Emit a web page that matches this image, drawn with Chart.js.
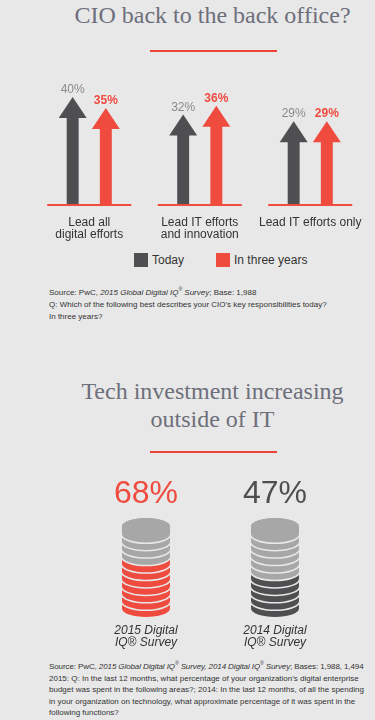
<!DOCTYPE html>
<html>
<head>
<meta charset="utf-8">
<script src="https://cdn.jsdelivr.net/npm/chart.js@4.4.1/dist/chart.umd.min.js"></script>
<style>
  body { margin: 0; background: #e8e8e8; }
  #page { position: relative; width: 375px; height: 720px; overflow: hidden; font-family: "Liberation Sans", Arial, sans-serif; }
  .title { position: absolute; left: 50px; width: 325px; text-align: center; font-family: "Liberation Serif", serif; font-size: 24px; line-height: 28px; color: #6d6f7b; }
  .rule { position: absolute; left: 150px; width: 127px; height: 2px; background: #ec4336; }
  .note { position: absolute; left: 49px; font-size: 8px; line-height: 12px; color: #333; white-space: nowrap; }
  .note sup { font-size: 5px; line-height: 0; }
  #legend { position: absolute; top: 253px; left: 134px; font-size: 12px; color: #333; white-space: nowrap; }
  #legend span { display: inline-block; vertical-align: top; line-height: 14px; }
  #legend .box { width: 14px; height: 14px; margin-right: 4px; }
  canvas { position: absolute; left: 0; }
</style>
</head>
<body>
<div id="page">
  <div class="title" style="top:1px">CIO back to the back office?</div>
  <div class="rule" style="top:50px"></div>
  <canvas id="cio" width="375" height="185" style="top:60px"></canvas>
  <div id="legend"></div>
  <div class="note" style="top:287px">Source: PwC, <i>2015 Global Digital IQ<sup>®</sup> Survey</i>; Base: 1,988<br>Q: Which of the following best describes your CIO's key responsibilities today?<br>In three years?</div>

  <div class="title" style="top:377px">Tech investment increasing<br>outside of IT</div>
  <div class="rule" style="top:451px"></div>
  <canvas id="tech" width="375" height="185" style="top:470px"></canvas>
  <div class="note" style="top:661px; line-height:11.5px"><span style="letter-spacing:-0.1px">Source: PwC, <i>2015 Global Digital IQ<sup>®</sup> Survey, 2014 Digital IQ<sup>®</sup> Survey</i>; Bases: 1,988, 1,494</span><br>2015: Q: In the last 12 months, what percentage of your organization's digital enterprise<br>budget was spent in the following areas?; 2014: In the last 12 months, of all the spending<br>in your organization on technology, what approximate percentage of it was spent in the<br>following functions?</div>
</div>
<script>
// CIO responsibilities (%)
const categories = [['Lead all', 'digital efforts'], ['Lead IT efforts', 'and innovation'], 'Lead IT efforts only'];
const seriesNames = ['Today', 'In three years'];
const today = [40, 32, 29];
const inThreeYears = [35, 36, 29];

// share of tech spend outside IT (%)
const surveys = [['2015 Digital', 'IQ® Survey'], ['2014 Digital', 'IQ® Survey']];
const techShare = [68, 47];

const DARK = '#4f4f51';
const RED = '#ef4b3f';
const LIGHT = '#a7a7a7';
const BG = '#e8e8e8';
const FONT = '"Liberation Sans", Arial, sans-serif';
const DISCS = 11;

// legend for the first chart
const legendColors = [DARK, RED];
document.getElementById('legend').innerHTML = seriesNames.map((name, i) =>
  '<span class="box" style="background:' + legendColors[i] + '"></span><span style="margin-right:' + (i === 0 ? 32 : 0) + 'px">' + name + '</span>'
).join('');

// arrow heads on top of each bar, plus the red base line of each group
const arrowHeads = {
  id: 'arrowHeads',
  afterDatasetsDraw(chart) {
    const ctx = chart.ctx;
    const base = chart.scales.y.getPixelForValue(0);
    const xs = chart.scales.x;
    ctx.save();
    ctx.fillStyle = RED;
    categories.forEach((c, i) => {
      ctx.fillRect(xs.getPixelForValue(i) - 42, base - 1, 84, 2);
    });
    chart.data.datasets.forEach((ds, di) => {
      chart.getDatasetMeta(di).data.forEach((bar, i) => {
        ctx.fillStyle = ds.backgroundColor;
        ctx.beginPath();
        ctx.moveTo(bar.x - 14, bar.y + 1);
        ctx.lineTo(bar.x + 14, bar.y + 1);
        ctx.lineTo(bar.x, bar.y - 20);
        ctx.closePath();
        ctx.fill();
        ctx.fillStyle = di === 0 ? '#8a8a8a' : RED;
        ctx.font = (di === 0 ? '' : 'bold ') + '12px ' + FONT;
        ctx.textAlign = 'center';
        ctx.fillText(ds.data[i] + '%', bar.x, bar.y - 24);
      });
    });
    ctx.restore();
  }
};

function discPath(ctx, cx, yt, yb, rx, ry) {
  ctx.beginPath();
  ctx.moveTo(cx - rx, yt);
  ctx.lineTo(cx - rx, yb);
  ctx.ellipse(cx, yb, rx, ry, 0, Math.PI, 0, true);
  ctx.lineTo(cx + rx, yt);
  ctx.ellipse(cx, yt, rx, ry, 0, 0, Math.PI, true);
  ctx.closePath();
}

// each bar is drawn as a stack of discs, the filled share in colour
const cylinders = {
  id: 'cylinders',
  beforeDatasetsDraw(chart) {
    const ctx = chart.ctx;
    const top = chart.scales.y.getPixelForValue(100);
    const bottom = chart.scales.y.getPixelForValue(0);
    const step = (bottom - top) / DISCS;
    const ds = chart.data.datasets[0];
    ctx.save();
    chart.getDatasetMeta(0).data.forEach((bar, i) => {
      const rx = bar.width / 2, ry = 8.5;
      const filled = Math.round(ds.data[i] / 100 * DISCS);
      for (let k = 0; k < DISCS; k++) {
        const yb = bottom - k * step;
        discPath(ctx, bar.x, yb - step, yb, rx, ry);
        ctx.strokeStyle = BG;
        ctx.lineWidth = 3;
        ctx.stroke();
        ctx.fillStyle = k < filled ? ds.backgroundColor[i] : LIGHT;
        ctx.fill();
      }
      ctx.beginPath();
      ctx.ellipse(bar.x, top, rx, ry, 0, 0, 2 * Math.PI);
      ctx.fillStyle = LIGHT;
      ctx.fill();
      ctx.fillStyle = ds.backgroundColor[i];
      ctx.font = '32px ' + FONT;
      ctx.textAlign = 'center';
      ctx.fillText(ds.data[i] + '%', bar.x, top - ry - 15);
    });
    ctx.restore();
    return false;
  }
};

new Chart(document.getElementById('cio'), {
  type: 'bar',
  data: {
    labels: categories,
    datasets: [
      { label: seriesNames[0], data: today, backgroundColor: DARK, categoryPercentage: 0.6, barPercentage: 0.36 },
      { label: seriesNames[1], data: inThreeYears, backgroundColor: RED, categoryPercentage: 0.6, barPercentage: 0.36 }
    ]
  },
  options: {
    responsive: false,
    animation: false,
    layout: { padding: { top: 35, left: 34, right: 9, bottom: 0 } },
    plugins: { legend: { display: false }, tooltip: { enabled: false } },
    scales: {
      x: {
        grid: { display: false, drawTicks: false },
        border: { display: false },
        ticks: { color: '#333', padding: 12, font: { size: 12, family: FONT, lineHeight: 1 } },
        afterFit: (scale) => { scale.height = 40; }
      },
      y: { display: false, min: 0, max: 50 }
    }
  },
  plugins: [arrowHeads]
});

new Chart(document.getElementById('tech'), {
  type: 'bar',
  data: {
    labels: surveys,
    datasets: [
      { data: techShare, backgroundColor: [RED, DARK], categoryPercentage: 1, barPercentage: 0.372 }
    ]
  },
  options: {
    responsive: false,
    animation: false,
    layout: { padding: { top: 56.5, left: 81.5, right: 35.5, bottom: 0 } },
    plugins: { legend: { display: false }, tooltip: { enabled: false } },
    scales: {
      x: {
        grid: { display: false, drawTicks: false },
        border: { display: false },
        ticks: { color: '#333', padding: 16.5, font: { size: 12, family: FONT, style: 'italic', lineHeight: 1 } },
        afterFit: (scale) => { scale.height = 46.5; }
      },
      y: { display: false, min: 0, max: 100 }
    }
  },
  plugins: [cylinders]
});
</script>
</body>
</html>
